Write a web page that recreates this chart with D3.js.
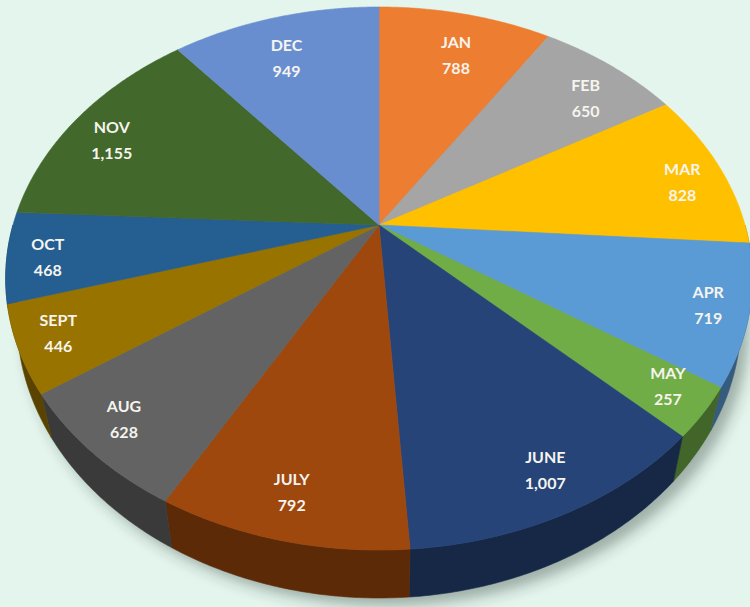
<!DOCTYPE html>
<html>
<head>
<meta charset="utf-8">
<script src="https://cdn.jsdelivr.net/npm/d3@7"></script>
<style>
  html, body { margin: 0; padding: 0; background: #e4f5ed; }
  svg { display: block; }
</style>
</head>
<body>
<svg id="chart" width="750" height="607"></svg>
<script>
const months = ["JAN","FEB","MAR","APR","MAY","JUNE","JULY","AUG","SEPT","OCT","NOV","DEC"];
const values = [788, 650, 828, 719, 257, 1007, 792, 628, 446, 468, 1155, 949];
const colors = ["#ED7D31","#A5A5A5","#FFC000","#5B9BD5","#70AD47","#264478",
                "#9E480E","#636363","#997300","#255E91","#43682B","#698ED0"];

const W = 750, H = 607;
const cx = 379, cy = 225;     // apex of the pie
const Rx = 366, Ry = 261;     // radii of projected disk
const s = 0.197;              // perspective strength
const thick = 38.5;           // thickness of the disk
const shrink = 0.03;          // bottom face is slightly farther away

function project(a, r, h) {
  const w = 1 + s * r * Math.cos(a);
  return [cx + (1 - shrink * h) * Rx * r * Math.sin(a) / w,
          cy - Ry * r * Math.cos(a) / w + thick * h / w];
}

const svg = d3.select("#chart");
svg.append("rect").attr("width", W).attr("height", H).attr("fill", "#e4f5ed");

const defs = svg.append("defs");
const f = defs.append("filter").attr("id", "shadow")
  .attr("x", "-20%").attr("y", "-20%").attr("width", "140%").attr("height", "140%");
f.append("feGaussianBlur").attr("stdDeviation", 7);

const pie = d3.pie().sort(null).value(d => d.v).startAngle(0).endAngle(2 * Math.PI);
const arcs = pie(months.map((m, i) => ({ m, v: values[i], c: colors[i] })));

const step = Math.PI / 360;
function arcPoints(a0, a1, h) {
  const pts = [];
  const n = Math.max(2, Math.ceil((a1 - a0) / step));
  for (let k = 0; k <= n; k++) pts.push(project(a0 + (a1 - a0) * k / n, 1, h));
  return pts;
}
const line = d3.line();

// shadow under the disk
const outline = arcPoints(0, 2 * Math.PI, 1);
svg.append("path")
  .attr("d", line(outline) + "Z")
  .attr("transform", "translate(8,8)")
  .attr("fill", "rgba(40,60,50,0.38)")
  .attr("filter", "url(#shadow)");

// side walls (front half only)
const lo = Math.PI / 2, hi = 3 * Math.PI / 2;
arcs.forEach(d => {
  const a0 = Math.max(d.startAngle, lo), a1 = Math.min(d.endAngle, hi);
  if (a1 <= a0) return;
  const top = arcPoints(a0, a1, 0);
  const bot = arcPoints(a0, a1, 1).reverse();
  const sc = d3.color(d.data.c).darker(1.5);
  svg.append("path")
    .attr("d", line(top.concat(bot)) + "Z")
    .attr("fill", sc)
    .attr("stroke", sc)
    .attr("stroke-width", 0.6);
});

// top faces
arcs.forEach(d => {
  const pts = [[cx, cy]].concat(arcPoints(d.startAngle, d.endAngle, 0));
  svg.append("path")
    .attr("d", line(pts) + "Z")
    .attr("fill", d.data.c)
    .attr("stroke", d.data.c)
    .attr("stroke-width", 0.6)
    .attr("stroke-linejoin", "round");
});

// labels
const fmt = d3.format(",");
const fx = 0.89, fy = 0.83, dy0 = 5;
arcs.forEach(d => {
  const mid = (d.startAngle + d.endAngle) / 2;
  const [bx, by] = project(mid, 1, 0);
  const lx = cx + fx * (bx - cx);
  const ly = cy + fy * (by - cy) + dy0;
  const g = svg.append("g").attr("transform", `translate(${lx},${ly})`)
    .attr("font-family", "Lato, 'Open Sans', sans-serif")
    .attr("font-weight", 700).attr("font-size", 16)
    .attr("fill", "#f6f4ee").attr("text-anchor", "middle");
  g.append("text").attr("y", -13 + 6).text(d.data.m);
  g.append("text").attr("y", 13 + 6).text(fmt(d.data.v));
});
</script>
</body>
</html>
